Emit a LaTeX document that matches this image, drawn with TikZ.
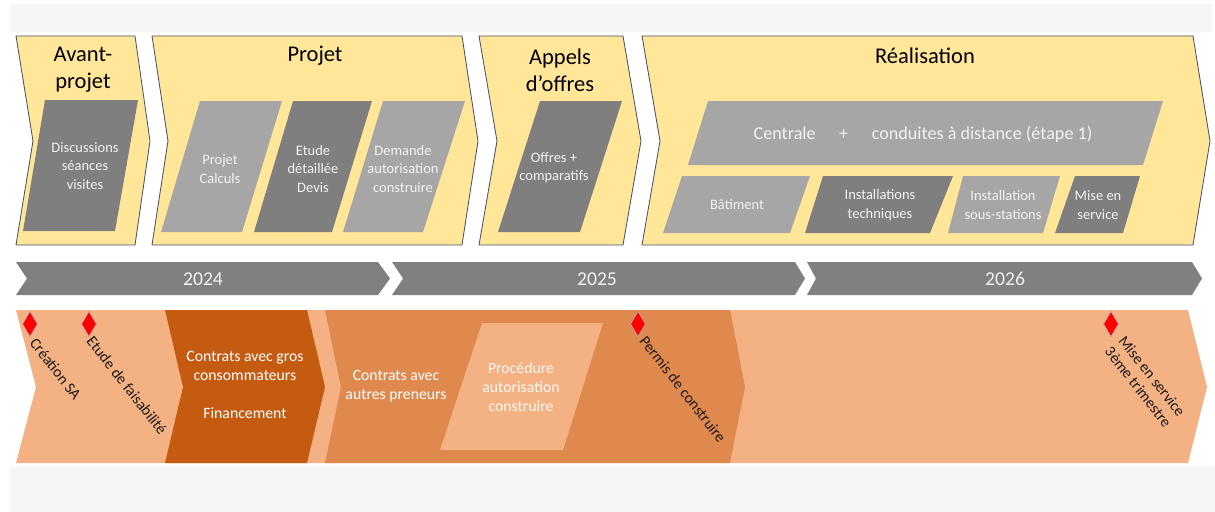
\documentclass[tikz,border=0pt]{standalone}
\usepackage{fontspec}
\setmainfont{Carlito}
\usetikzlibrary{shapes.geometric}
\definecolor{bgstrip}{HTML}{F6F6F6}
\definecolor{phasefill}{HTML}{FFE699}
\definecolor{phaseline}{HTML}{44546A}
\definecolor{darkgr}{HTML}{7F7F7F}
\definecolor{lightgr}{HTML}{A6A6A6}
\definecolor{yeargr}{HTML}{808080}
\definecolor{txtlight}{HTML}{F2F2F2}
\definecolor{orlight}{HTML}{F4B183}
\definecolor{ordark}{HTML}{C55A11}
\definecolor{ormid}{HTML}{DF894E}
\definecolor{lbl}{HTML}{1A1A1A}
\tikzset{
  phase/.style={fill=phasefill, draw=phaseline, line width=0.6pt, line join=miter},
  darkpar/.style={fill=darkgr},
  lightpar/.style={fill=lightgr},
  phasetitle/.style={font=\fontsize{16}{19}\selectfont, text=black, align=center, inner sep=0pt},
  intext/.style={font=\fontsize{10.3}{13}\selectfont, text=txtlight, align=center, inner sep=0pt},
  yeartext/.style={font=\fontsize{14}{16}\selectfont, text=txtlight, inner sep=0pt},
  ortext/.style={font=\fontsize{11.2}{13.5}\selectfont, text=white, align=center, inner sep=0pt},
  milestone/.style={diamond, fill=red, draw=gray!60, line width=0.5pt, minimum width=0.38cm, minimum height=0.64cm, inner sep=0pt, shape aspect=0.6},
  msl/.style={font=\fontsize{11}{12.5}\selectfont, text=lbl, rotate=-52, anchor=west, inner sep=0pt, align=center}
}
\begin{document}
\begin{tikzpicture}[x=0.025cm, y=-0.025cm]
\useasboundingbox (0,0) rectangle (1215,512);
\fill[white] (0,0) rectangle (1215,512);
\fill[bgstrip] (10,4) rectangle (1212,32);
\fill[bgstrip] (10,467) rectangle (1215,512);

% ---- phase chevrons ----
\draw[phase] (16,36) -- (135,36) -- (150,141) -- (135,245) -- (16,245) -- (33,141) -- cycle;
\draw[phase] (152,36) -- (462,36) -- (478,141) -- (462,245) -- (152,245) -- (168,141) -- cycle;
\draw[phase] (479,36) -- (623,36) -- (641,141) -- (623,245) -- (479,245) -- (497,141) -- cycle;
\draw[phase] (642,36) -- (1193,36) -- (1210,141) -- (1193,245) -- (642,245) -- (660,141) -- cycle;

\node[phasetitle] (tAvant) at (83,70) {Avant-\\projet};
\node[phasetitle] (tProjet) at (315,56) {Projet};
\node[phasetitle] (tAppels) at (560,70) {Appels\\d’offres};
\node[phasetitle] (tReal) at (925,56) {Réalisation};

% ---- inner tasks ----
\fill[darkpar] (45,100) -- (138,100) -- (115,231) -- (23,231) -- cycle;
\node[intext] (iDisc) at (85,166) {Discussions\\séances\\visites};

\fill[lightpar] (200,101) -- (282,101) -- (242,232) -- (161,232) -- cycle;
\node[intext] (iCalc) at (220,169) {Projet\\Calculs};
\fill[darkpar] (293,101) -- (372,101) -- (332,232) -- (254,232) -- cycle;
\node[intext] (iEtude) at (313,169) {Etude\\détaillée\\Devis};
\fill[lightpar] (383,101) -- (465,101) -- (423,232) -- (343,232) -- cycle;
\node[intext] (iDem) at (403,169) {Demande\\autorisation\\construire};

\fill[darkpar] (540,101) -- (622,101) -- (580,232) -- (498,232) -- cycle;
\node[intext] (iOffres) at (554,168) {Offres +\\comparatifs};

\fill[lightpar] (708,101) -- (1163,101) -- (1143,165) -- (688,165) -- cycle;
\node[intext, font=\fontsize{12.9}{15}\selectfont] (iCentrale) at (923,134) {Centrale\hspace{1.3em}+\hspace{1.3em}conduites à distance (étape 1)};

\fill[lightpar] (682,176) -- (810,176) -- (790,233) -- (663,233) -- cycle;
\node[intext] (iBat) at (737,205) {Bâtiment};
\fill[darkpar] (823,176) -- (953,176) -- (930,233) -- (805,233) -- cycle;
\node[intext] (iInst) at (880,205) {Installations\\techniques};
\fill[lightpar] (963,176) -- (1060,176) -- (1043,233) -- (948,233) -- cycle;
\node[intext] (iSous) at (1003,205) {Installation\\sous-stations};
\fill[darkpar] (1075,176) -- (1140,176) -- (1123,233) -- (1055,233) -- cycle;
\node[intext] (iMise) at (1098,205) {Mise en\\service};

% ---- years ----
\fill[yeargr] (16,262) -- (378,262) -- (390,278.5) -- (378,295) -- (16,295) -- (27,278.5) -- cycle;
\fill[yeargr] (392,262) -- (795,262) -- (805,278.5) -- (795,295) -- (392,295) -- (403,278.5) -- cycle;
\fill[yeargr] (807,262) -- (1192,262) -- (1202,278.5) -- (1192,295) -- (807,295) -- (816,278.5) -- cycle;
\node[yeartext] (y24) at (203,279) {2024};
\node[yeartext] (y25) at (597,279) {2025};
\node[yeartext] (y26) at (1005,279) {2026};

% ---- orange band ----
\fill[orlight] (16,310) -- (1188,310) -- (1207,387) -- (1188,463) -- (16,463) -- (36,387) -- cycle;
\fill[ordark] (165,310) -- (307,310) -- (325,387) -- (307,463) -- (165,463) -- (183,387) -- cycle;
\fill[ormid] (325,310) -- (730,310) -- (745,387) -- (730,463) -- (325,463) -- (341,387) -- cycle;
\fill[orlight] (482,323) -- (603,323) -- (563,450) -- (440,450) -- cycle;

\node[ortext] (oGros) at (245,385) {Contrats avec gros\\consommateurs\\[13.5pt]Financement};
\node[ortext] (oAutres) at (396,386) {Contrats avec\\autres preneurs};
\node[ortext, text=white!92!orlight] (oProc) at (521,387) {Procédure\\autorisation\\construire};

% ---- milestones ----
\node[milestone] (m1) at (30,324) {};
\node[milestone] (m2) at (89,324) {};
\node[milestone] (m3) at (638,324) {};
\node[milestone] (m4) at (1111,324) {};

\node[msl] (l1) at (33,340) {Création SA};
\node[msl] (l2) at (90,338) {Etude de faisabilité};
\node[msl] (l3) at (643,338) {Permis de construire};
\node[msl] (l4) at (1115,343) {Mise en service\\3ème trimestre};
\end{tikzpicture}
\end{document}
